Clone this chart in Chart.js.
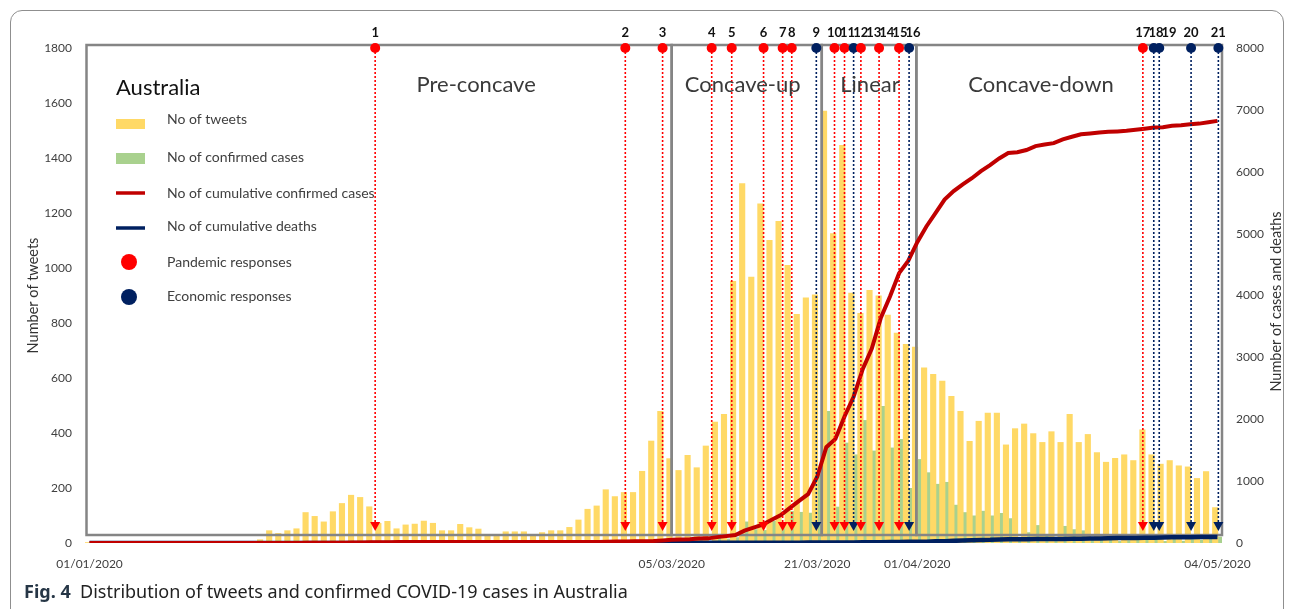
<!DOCTYPE html>
<html>
<head>
<meta charset="utf-8">
<script src="https://cdn.jsdelivr.net/npm/chart.js@4.4.1/dist/chart.umd.min.js"></script>
<style>
  html, body { margin: 0; padding: 0; background: #fff; }
  #wrap { position: relative; width: 1295px; height: 609px; overflow: hidden; }
  #frame { position: absolute; left: 10px; top: 10px; width: 1272px; height: 640px;
           border: 1.5px solid #8f8f8f; border-radius: 12px; }
  #cv { position: absolute; left: 0; top: 0; }
  #caption { position: absolute; left: 24px; top: 579px; font: 18px "Noto Sans", sans-serif; color: #222; }
  #caption b { color: #263646; }
</style>
</head>
<body>
<div id="wrap">
  <div id="frame"></div>
  <canvas id="cv" width="1295" height="580"></canvas>
  <div id="caption"><b>Fig. 4</b>&nbsp; Distribution of tweets and confirmed COVID-19 cases in Australia</div>
</div>
<script>
// one category per day, 01/01/2020 .. 04/05/2020
var dates = [];
for (var i = 0; i < 125; i++) {
  var d = new Date(Date.UTC(2020, 0, 1 + i));
  dates.push(String(d.getUTCDate()).padStart(2, '0') + '/' + String(d.getUTCMonth() + 1).padStart(2, '0') + '/2020');
}
var shownDates = ['01/01/2020', '05/03/2020', '21/03/2020', '01/04/2020', '04/05/2020'];

// No of tweets (left axis)
var tweets = [
  3, 4, 0, 2, 3, 3, 0, 2, 3, 4, 3, 0, 3, 4, 2, 3, 5, 4, 6,
  13, 46, 36, 46, 53, 112, 98, 78, 115, 145, 175, 167,
  133, 73, 80, 53, 67, 70, 81, 73, 46, 46, 69, 57,
  52, 28, 28, 42, 42, 42, 28, 39, 46, 46, 58, 85,
  124, 136, 195, 170, 185, 185, 262, 372, 480, 308,
  265, 320, 275, 354, 441, 469, 953, 1308, 968, 1235, 1102, 1171, 1011, 833, 893, 904,
  1572, 1126, 1447, 910, 836, 920, 900, 830, 765, 724, 714,
  638, 615, 590, 535, 480, 371, 444, 474, 474, 358, 417, 434, 399, 367, 406, 367, 469,
  367, 396, 330, 295, 309, 322, 301, 413, 322, 288, 301, 282, 278, 236, 261, 130
];

// No of confirmed cases per day (left axis)
var dailyCases = [
  0, 0, 0, 0, 0, 0, 0, 0, 0, 0, 0, 0, 0, 0, 0, 0, 0, 0, 0, 0, 0, 0, 0, 0,
  4, 1, 0, 0, 1, 2, 0, 3, 2, 0, 1, 0, 0, 0, 0, 0, 0, 0, 0, 0, 0, 0, 0, 0,
  0, 0, 0, 0, 0, 0, 0, 0, 0, 0, 1, 2,
  2, 3, 4, 8, 11, 3, 5, 12, 3, 20, 16, 21, 78, 50, 47, 80, 75, 116, 113, 110, 250,
  480, 132, 365, 322, 447, 336, 498, 347, 378, 200, 305,
  257, 215, 222, 139, 112, 100, 117, 100, 109, 90, 14, 39, 65, 29, 20, 62, 50,
  46, 13, 15, 11, 7, 10, 15, 17, 20, 7, 23, 8, 14, 12, 21, 23
];

// No of cumulative confirmed cases (right axis)
var cumCases = [
  0, 0, 0, 0, 0, 0, 0, 0, 0, 0, 0, 0, 0, 0, 0, 0, 0, 0, 0, 0, 0, 0, 0, 0,
  4, 5, 5, 5, 6, 8, 9, 12, 14, 14, 15, 15, 15, 15, 15, 15, 15, 15, 15, 15, 15, 15, 15, 15,
  15, 15, 15, 15, 15, 15, 15, 15, 15, 22, 23, 25,
  27, 30, 33, 41, 52, 55, 60, 72, 75, 95, 111, 128, 200, 250, 297, 377, 452, 568, 681, 791, 1071,
  1549, 1682, 2044, 2364, 2810, 3143, 3640, 3984, 4361, 4559, 4862,
  5116, 5330, 5550, 5687, 5797, 5895, 6010, 6108, 6215, 6303, 6315, 6351, 6415, 6440, 6462, 6522, 6565,
  6606, 6619, 6634, 6645, 6652, 6662, 6677, 6694, 6714, 6721, 6744, 6752, 6766, 6778, 6799, 6822
];

// No of cumulative deaths (right axis)
var cumDeaths = [
  0, 0, 0, 0, 0, 0, 0, 0, 0, 0, 0, 0, 0, 0, 0, 0, 0, 0, 0, 0, 0, 0, 0, 0, 0, 0, 0, 0, 0, 0,
  0, 0, 0, 0, 0, 0, 0, 0, 0, 0, 0, 0, 0, 0, 0, 0, 0, 0, 0, 0, 0, 0, 0, 0, 0, 0, 0, 0, 0, 0,
  1, 1, 1, 2, 2, 2, 2, 3, 3, 3, 3, 3, 3, 3, 3, 5, 5, 6, 6, 7, 7,
  7, 7, 8, 8, 13, 13, 14, 16, 17, 19, 21,
  22, 28, 30, 35, 40, 45, 50, 51, 57, 60, 61, 61, 63, 63, 63, 66, 67,
  70, 71, 74, 75, 79, 80, 81, 83, 83, 89, 91, 93, 93, 95, 95, 96
];

// responses: position on the day axis and kind (P = pandemic, E = economic)
var eventDay  = [31.4, 58.9, 63, 68.4, 70.6, 74.1, 76.2, 77.2, 79.9, 81.9, 83, 84, 84.8, 86.8, 89, 90.1, 115.8, 117, 117.6, 121.1, 124.1];
var eventKind = ['P', 'P', 'P', 'P', 'P', 'P', 'P', 'P', 'E', 'P', 'P', 'E', 'P', 'P', 'P', 'E', 'P', 'E', 'E', 'E', 'E'];

// phases of the epidemic curve
var phaseNames = ['Pre-concave', 'Concave-up', 'Linear', 'Concave-down'];
var phaseEdges = [-0.5, 64, 80.5, 90.9, 124.5];
var phaseLabelAt = [42.5, 71.8, 85.8, 104.6];

var RED = '#ff0000', NAVY = '#002060';

var overlay = {
  id: 'overlay',
  afterDatasetDraw: function (chart, args) {
    if (args.index !== 0) return;
    // phase boxes, on top of the bars and under the lines
    var ctx = chart.ctx, ca = chart.chartArea, x = chart.scales.x;
    ctx.save();
    ctx.strokeStyle = '#858585';
    ctx.lineWidth = 2.5;
    for (var i = 0; i < phaseEdges.length - 1; i++) {
      var x0 = x.getPixelForValue(phaseEdges[i]) + (i === 0 ? 1.5 : 0);
      var x1 = x.getPixelForValue(phaseEdges[i + 1]);
      ctx.strokeRect(x0, ca.top - 3, x1 - x0, ca.bottom - ca.top - 5);
    }
    ctx.restore();
  },
  afterDatasetsDraw: function (chart) {
    var ctx = chart.ctx, ca = chart.chartArea, x = chart.scales.x;
    ctx.save();

    // response markers
    ctx.font = 'bold 13px Lato';
    ctx.textAlign = 'center';
    ctx.textBaseline = 'middle';
    var prevRight = -1e9;
    eventDay.forEach(function (d, i) {
      var px = x.getPixelForValue(d);
      var col = eventKind[i] === 'P' ? RED : NAVY;
      ctx.strokeStyle = col;
      ctx.lineWidth = 1.6;
      ctx.setLineDash([2, 2]);
      ctx.beginPath();
      ctx.moveTo(px, ca.top);
      ctx.lineTo(px, ca.bottom - 20);
      ctx.stroke();
      ctx.setLineDash([]);
      ctx.fillStyle = col;
      ctx.beginPath();
      ctx.moveTo(px - 5, ca.bottom - 21);
      ctx.lineTo(px + 5, ca.bottom - 21);
      ctx.lineTo(px, ca.bottom - 12);
      ctx.closePath();
      ctx.fill();
      ctx.beginPath();
      ctx.arc(px, ca.top, 5, 0, Math.PI * 2);
      ctx.fill();
      var t = String(i + 1);
      var w = ctx.measureText(t).width;
      var cx = Math.max(px, prevRight + w / 2 - 2);
      prevRight = cx + w / 2;
      ctx.fillStyle = '#111';
      ctx.fillText(t, cx, ca.top - 15);
    });

    // phase names
    ctx.font = '22px Lato';
    ctx.fillStyle = '#3a3a3a';
    phaseNames.forEach(function (n, i) {
      ctx.fillText(n, x.getPixelForValue(phaseLabelAt[i]), ca.top + 37);
    });

    // legend
    var lx = ca.left + 31;
    ctx.textAlign = 'left';
    ctx.font = '22px Lato';
    ctx.fillStyle = '#111';
    ctx.fillText('Australia', lx, ca.top + 40);
    ctx.font = '14px Lato';
    var tx = lx + 51;
    ctx.fillStyle = '#ffd966';
    ctx.fillRect(lx, ca.top + 71, 29, 10);
    ctx.fillStyle = '#a9d18e';
    ctx.fillRect(lx, ca.top + 105, 29, 11);
    ctx.lineWidth = 3.5;
    ctx.strokeStyle = '#c00000';
    ctx.beginPath(); ctx.moveTo(lx, ca.top + 145); ctx.lineTo(lx + 29, ca.top + 145); ctx.stroke();
    ctx.strokeStyle = NAVY;
    ctx.beginPath(); ctx.moveTo(lx, ca.top + 180); ctx.lineTo(lx + 29, ca.top + 180); ctx.stroke();
    ctx.fillStyle = RED;
    ctx.beginPath(); ctx.arc(lx + 13, ca.top + 214, 8, 0, Math.PI * 2); ctx.fill();
    ctx.fillStyle = NAVY;
    ctx.beginPath(); ctx.arc(lx + 13, ca.top + 249, 8, 0, Math.PI * 2); ctx.fill();
    ctx.fillStyle = '#404040';
    ctx.fillText('No of tweets', tx, ca.top + 71);
    ctx.fillText('No of confirmed cases', tx, ca.top + 109);
    ctx.fillText('No of cumulative confirmed cases', tx, ca.top + 145);
    ctx.fillText('No of cumulative deaths', tx, ca.top + 178);
    ctx.fillText('Pandemic responses', tx, ca.top + 214);
    ctx.fillText('Economic responses', tx, ca.top + 248);

    // axis titles
    ctx.textAlign = 'center';
    ctx.font = '14.5px Lato';
    ctx.fillStyle = '#333';
    ctx.save();
    ctx.translate(33, (ca.top + ca.bottom) / 2);
    ctx.rotate(-Math.PI / 2);
    ctx.fillText('Number of tweets', 0, 0);
    ctx.restore();
    ctx.save();
    ctx.translate(chart.width - 19, (ca.top + ca.bottom) / 2 + 6);
    ctx.rotate(-Math.PI / 2);
    ctx.fillText('Number of cases and deaths', 0, 0);
    ctx.restore();

    ctx.restore();
  }
};

var tickFont = { family: 'Lato', size: 12 };
var plainTick = function (v) { return String(v); };

new Chart(document.getElementById('cv'), {
  type: 'bar',
  data: {
    labels: dates,
    datasets: [
      { type: 'bar', label: 'No of tweets', data: tweets, backgroundColor: '#ffd966',
        yAxisID: 'y', order: 2, categoryPercentage: 1, barPercentage: 1.35 },
      { type: 'bar', label: 'No of confirmed cases', data: dailyCases, backgroundColor: '#a9d18e',
        yAxisID: 'y', order: 2, categoryPercentage: 1, barPercentage: 1.35 },
      { type: 'line', label: 'No of cumulative confirmed cases', data: cumCases, borderColor: '#c00000',
        borderWidth: 4, pointRadius: 0, tension: 0, yAxisID: 'y2', order: 0 },
      { type: 'line', label: 'No of cumulative deaths', data: cumDeaths, borderColor: NAVY,
        borderWidth: 4.5, pointRadius: 0, tension: 0, yAxisID: 'y2', order: 0 }
    ]
  },
  options: {
    responsive: false,
    animation: false,
    layout: { padding: { top: 48, left: 0, right: 0, bottom: 0 } },
    plugins: { legend: { display: false }, tooltip: { enabled: false } },
    scales: {
      x: {
        grid: { display: false, drawTicks: false },
        border: { display: false },
        ticks: {
          autoSkip: false, maxRotation: 0, minRotation: 0, padding: 14,
          font: tickFont, color: '#404040',
          callback: function (v, i) { return shownDates.indexOf(dates[i]) >= 0 ? dates[i] : ''; }
        },
        afterFit: function (s) { s.height = 37; }
      },
      y: {
        position: 'left', min: 0, max: 1800,
        grid: { display: false, drawTicks: false },
        border: { display: false },
        ticks: { stepSize: 200, padding: 13, font: tickFont, color: '#404040', callback: plainTick },
        afterFit: function (s) { s.width = 85; }
      },
      y2: {
        position: 'right', min: 0, max: 8000,
        grid: { display: false, drawTicks: false },
        border: { display: false },
        ticks: { stepSize: 1000, padding: 14, font: tickFont, color: '#404040', callback: plainTick },
        afterFit: function (s) { s.width = 73; }
      }
    }
  },
  plugins: [overlay]
});
</script>
</body>
</html>
